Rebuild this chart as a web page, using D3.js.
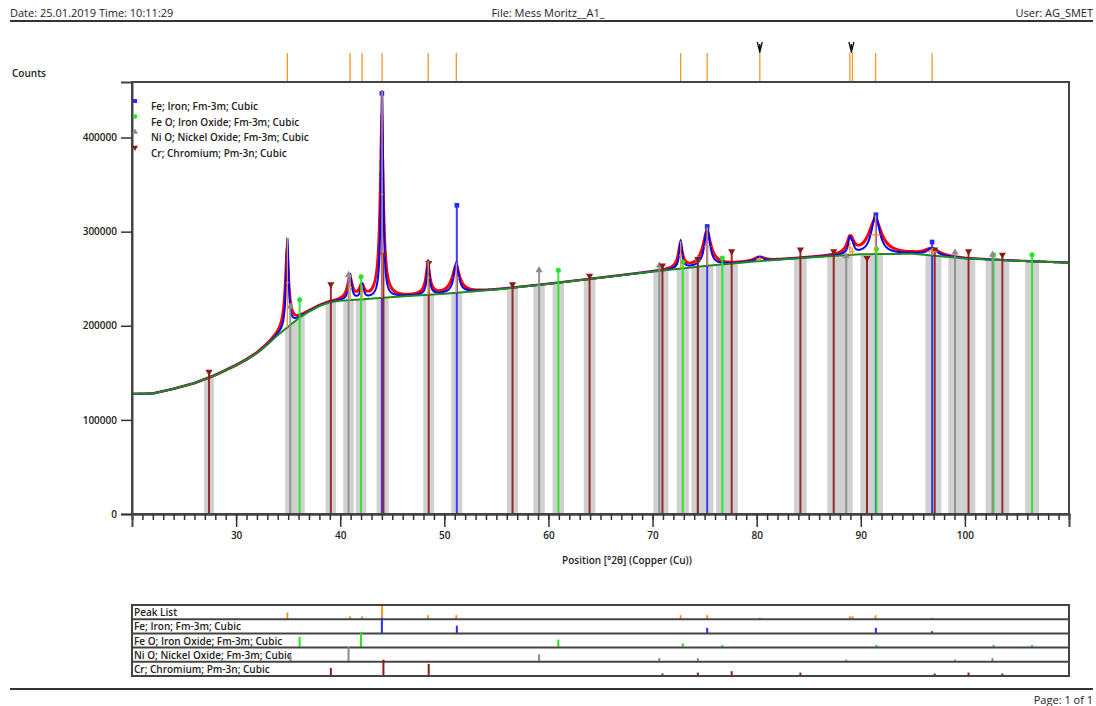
<!DOCTYPE html>
<html>
<head>
<meta charset="utf-8">
<script src="https://cdn.jsdelivr.net/npm/d3@7"></script>
<style>
  body { margin: 0; background: #fff; }
  text { font-family: "Open Sans", "DejaVu Sans", sans-serif; fill: #222; }
</style>
</head>
<body>
<div id="chart"></div>
<script>
// ---- data ----
// background (2theta, counts)
var bgPos = [20, 22, 24, 26, 28, 30, 31, 32, 33, 34, 35, 36, 37, 38, 39, 40, 42, 45, 50, 55, 60, 65, 70, 75, 80, 85, 90, 95, 100, 105, 110];
var bgVal = [127600, 128000, 133000, 139000, 147500, 158000, 164000, 171000, 180000, 190000, 199000, 208000, 215000, 221000, 225000, 226600, 228000, 230500, 234000, 238500, 244500, 251000, 257500, 263500, 268500, 272500, 276000, 276500, 271500, 269000, 267000];

// peak list (position, net height above background, FWHM, relative intensity)
var peakPos    = [34.92, 40.95, 42.1, 44.02, 48.45, 51.15, 72.7, 75.25, 80.3, 88.95, 89.2, 91.42, 96.85];
var peakHeight = [95000, 27000, 15000, 220000, 36000, 32000, 29000, 41000, 4500, 15000, 7000, 41000, 8000];
var peakFwhm   = [0.28, 0.35, 0.35, 0.26, 0.3, 0.55, 0.32, 0.6, 0.7, 0.4, 0.4, 0.95, 1.0];
var peakRel    = [43, 19, 19, 100, 26, 26, 26, 26, 10, 19, 19, 26, 10];
var markedPeaks = [80.3, 89.1];

// reference patterns: position, marker top (counts), relative intensity
var fePos  = [44.0, 51.2, 75.25, 91.45, 96.85];
var feTop  = [447000, 328000, 305500, 318000, 289000];
var feRel  = [100, 50, 36, 36, 14];

var feoPos = [36.1, 42.0, 60.95, 72.9, 76.7, 91.5, 102.75, 106.45];
var feoTop = [227700, 252000, 259000, 268000, 272000, 281600, 275500, 275500];
var feoRel = [69, 100, 52, 28, 17, 17, 17, 17];

var nioPos = [35.2, 40.8, 59.1, 70.65, 74.35, 88.6, 99.05, 102.65];
var nioTop = [220500, 254000, 259000, 264000, 271000, 273800, 278000, 275500];
var nioRel = [48, 100, 48, 24, 24, 14, 14, 24];

var crPos = [27.4, 39.1, 44.15, 48.5, 56.55, 63.95, 70.95, 74.35, 77.6, 84.2, 87.4, 90.6, 97.1, 100.35, 103.6];
var crTop = [151000, 244000, 275500, 266700, 244000, 253000, 264000, 271000, 279000, 281000, 279000, 272000, 281000, 279000, 275500];
var crRel = [3, 52, 105, 78, 4, 4, 16, 22, 31, 22, 5, 5, 16, 22, 16];

var phases = [
  { name: "Fe; Iron; Fm-3m; Cubic", color: "#2a2aff", text: "#3030ff", shape: d3.symbolSquare, pos: fePos, top: feTop, rel: feRel },
  { name: "Fe O; Iron Oxide; Fm-3m; Cubic", color: "#22e622", text: "#1ed81e", shape: d3.symbolCircle, pos: feoPos, top: feoTop, rel: feoRel },
  { name: "Ni O; Nickel Oxide; Fm-3m; Cubic", color: "#8c8c8c", text: "#a0a0a0", shape: d3.symbolTriangle, pos: nioPos, top: nioTop, rel: nioRel },
  { name: "Cr; Chromium; Pm-3n; Cubic", color: "#8b1a1a", text: "#8b1a1a", shape: d3.symbolTriangle, flip: true, pos: crPos, top: crTop, rel: crRel }
];

var W = 1096, H = 706;
var svg = d3.select("#chart").append("svg").attr("width", W).attr("height", H);

var x = d3.scaleLinear().domain([20, 110]).range([132, 1069]);
var y = d3.scaleLinear().domain([0, 459000]).range([514, 82]);
var bg = d3.scaleLinear().domain(bgPos).range(bgVal);

// header / footer
svg.append("text").attr("x", 10).attr("y", 17).style("font-size", "11px").text("Date: 25.01.2019 Time: 10:11:29");
svg.append("text").attr("x", 548).attr("y", 17).attr("text-anchor", "middle").style("font-size", "11px").text("File: Mess Moritz__A1_");
svg.append("text").attr("x", 1093).attr("y", 17).attr("text-anchor", "end").style("font-size", "11px").text("User: AG_SMET");
svg.append("line").attr("x1", 10).attr("x2", 1093).attr("y1", 21).attr("y2", 21).attr("stroke", "#333").attr("stroke-width", 2);
svg.append("line").attr("x1", 10).attr("x2", 1093).attr("y1", 689).attr("y2", 689).attr("stroke", "#333").attr("stroke-width", 2);
svg.append("text").attr("x", 1093).attr("y", 704).attr("text-anchor", "end").style("font-size", "11px").text("Page: 1 of 1");

svg.append("text").attr("x", 12).attr("y", 77).style("font-size", "10px").style("font-weight", 600).text("Counts");

// top peak list strip
svg.selectAll(".toppeak").data(peakPos).enter().append("line")
  .attr("x1", d => x(d)).attr("x2", d => x(d)).attr("y1", 53).attr("y2", 83)
  .attr("stroke", "#f5962a").attr("stroke-width", 1.3);
svg.selectAll(".vmark").data(markedPeaks).enter().append("path")
  .attr("d", d => "M" + (x(d) - 2.5) + ",42 L" + x(d) + ",52 L" + (x(d) + 2.5) + ",42 M" + x(d) + ",44 V53")
  .attr("fill", "none").attr("stroke", "#111").attr("stroke-width", 1.3);

var plot = svg.append("g");

// grey bands under the background around each reference line
var allLines = [];
phases.forEach(function(p) { p.pos.forEach(function(v) { allLines.push(v); }); });
plot.selectAll(".band").data(allLines).enter().append("path")
  .attr("fill", "#d0d0d0")
  .attr("d", function(d) {
    var hw = 0.45 + 0.0025 * (d - 20);
    var pts = d3.range(d - hw, d + hw + 0.001, hw / 4);
    var a = d3.area().x(v => x(v)).y0(y(0)).y1(v => y(bg(v)));
    return a(pts);
  });

// profiles
var grid = d3.range(20, 110.0001, 0.02);
function profile(g, hf, wf, shift) {
  var s = bg(g);
  for (var i = 0; i < peakPos.length; i++) {
    var hw = peakFwhm[i] * wf / 2;
    var t = (g - peakPos[i] - shift) / hw;
    s += peakHeight[i] * hf / (1 + t * t);
  }
  return s;
}
var obs = grid.map(g => [g, profile(g, 0.88, 1.6, -0.04)]);
var calc = grid.map(g => [g, profile(g, 1, 1, 0)]);

plot.append("path").datum(obs)
  .attr("d", d3.line().x(d => x(d[0])).y(d => y(d[1])).curve(d3.curveStepAfter))
  .attr("fill", "none").attr("stroke", "#ff0000").attr("stroke-width", 2.2);
plot.append("path").datum(calc)
  .attr("d", d3.line().x(d => x(d[0])).y(d => y(d[1])))
  .attr("fill", "none").attr("stroke", "#0000ff").attr("stroke-width", 2);
plot.append("path").datum(grid)
  .attr("d", d3.line().x(d => x(d)).y(d => y(bg(d))))
  .attr("fill", "none").attr("stroke", "#1f8a1f").attr("stroke-width", 2);

// reference lines with markers
phases.forEach(function(p) {
  var g = plot.append("g");
  g.selectAll("line").data(p.pos).enter().append("line")
    .attr("x1", d => x(d)).attr("x2", d => x(d))
    .attr("y1", y(0)).attr("y2", (d, i) => y(p.top[i]))
    .attr("stroke", p.color).attr("stroke-width", 2).attr("opacity", 0.9);
  g.selectAll("path").data(p.pos).enter().append("path")
    .attr("d", d3.symbol().type(p.shape).size(p.shape === d3.symbolCircle ? 20 : 22))
    .attr("transform", (d, i) => "translate(" + x(d) + "," + y(p.top[i]) + ")" + (p.flip ? " rotate(180)" : ""))
    .attr("fill", p.color);
});

// orange peak markers (position + FWHM bar)
var pk = plot.append("g");
peakPos.forEach(function(pp, i) {
  var b = bg(pp);
  pk.append("line").attr("x1", x(pp)).attr("x2", x(pp))
    .attr("y1", y(b)).attr("y2", y(b + peakHeight[i]))
    .attr("stroke", "#f5962a").attr("stroke-width", 1.3);
  pk.append("line").attr("x1", x(pp - peakFwhm[i] / 2)).attr("x2", x(pp + peakFwhm[i] / 2))
    .attr("y1", y(b + peakHeight[i] / 2)).attr("y2", y(b + peakHeight[i] / 2))
    .attr("stroke", "#f5962a").attr("stroke-width", 1.3);
});

// frame and axes
svg.append("rect").attr("x", 132).attr("y", 82).attr("width", 937).attr("height", 432)
  .attr("fill", "none").attr("stroke", "#444").attr("stroke-width", 2);

svg.append("g").attr("transform", "translate(0,514)")
  .call(d3.axisBottom(x).tickValues(d3.range(30, 101, 10)).tickSize(13).tickPadding(5).tickFormat(d3.format("d")));
svg.append("g").attr("transform", "translate(0,514)")
  .call(d3.axisBottom(x).tickValues(d3.range(21, 110, 1)).tickSize(6).tickFormat(""));
svg.append("g").attr("transform", "translate(132,0)")
  .call(d3.axisLeft(y).tickValues([0, 100000, 200000, 300000, 400000]).tickSize(11).tickPadding(4).tickFormat(d3.format("d")));
svg.selectAll(".domain").attr("stroke", "#444").attr("stroke-width", 2);
svg.selectAll(".tick line").attr("stroke", "#333").attr("stroke-width", 1.5);
svg.selectAll(".tick text").style("font-size", "10px").style("font-weight", 600).attr("fill", "#222")
  .style("font-family", "'Open Sans', sans-serif");

svg.append("text").attr("x", 627).attr("y", 564).attr("text-anchor", "middle")
  .style("font-size", "10px").style("font-weight", 600).text("Position [°2θ] (Copper (Cu))");

// legend
phases.forEach(function(p, i) {
  svg.append("path").attr("d", d3.symbol().type(p.shape).size(16))
    .attr("transform", "translate(135," + (101 + i * 15.5) + ")" + (p.flip ? " rotate(180)" : ""))
    .attr("fill", p.color);
  svg.append("text").attr("x", 151).attr("y", 110 + i * 15.7)
    .style("font-size", "10px").style("font-weight", 600).attr("fill", "#333").text(p.name);
});

// lower stick panel
var rowTop = 605, rowH = 14.2;
var stick = d3.scaleLinear().domain([0, 100]).range([0, 15.5]);
var rows = [{ name: "Peak List", text: "#111", color: "#f5962a", pos: peakPos, rel: peakRel }].concat(phases);
var panel = svg.append("g");
rows.forEach(function(r, i) {
  var base = rowTop + (i + 1) * rowH;
  panel.append("text").attr("x", 134).attr("y", base - 3)
    .style("font-size", "10px").style("font-weight", 600).attr("fill", r.text).text(r.name);
  panel.selectAll(".s" + i).data(r.pos).enter().append("line")
    .attr("x1", d => x(d)).attr("x2", d => x(d))
    .attr("y1", base).attr("y2", (d, j) => base - stick(r.rel[j]))
    .attr("stroke", r.color).attr("stroke-width", 2);
  if (i < rows.length - 1) {
    panel.append("line").attr("x1", 132).attr("x2", 1069).attr("y1", base).attr("y2", base)
      .attr("stroke", "#444").attr("stroke-width", 2);
  }
});
panel.append("rect").attr("x", 132).attr("y", rowTop).attr("width", 937).attr("height", rowH * 5)
  .attr("fill", "none").attr("stroke", "#444").attr("stroke-width", 2);
</script>
</body>
</html>
